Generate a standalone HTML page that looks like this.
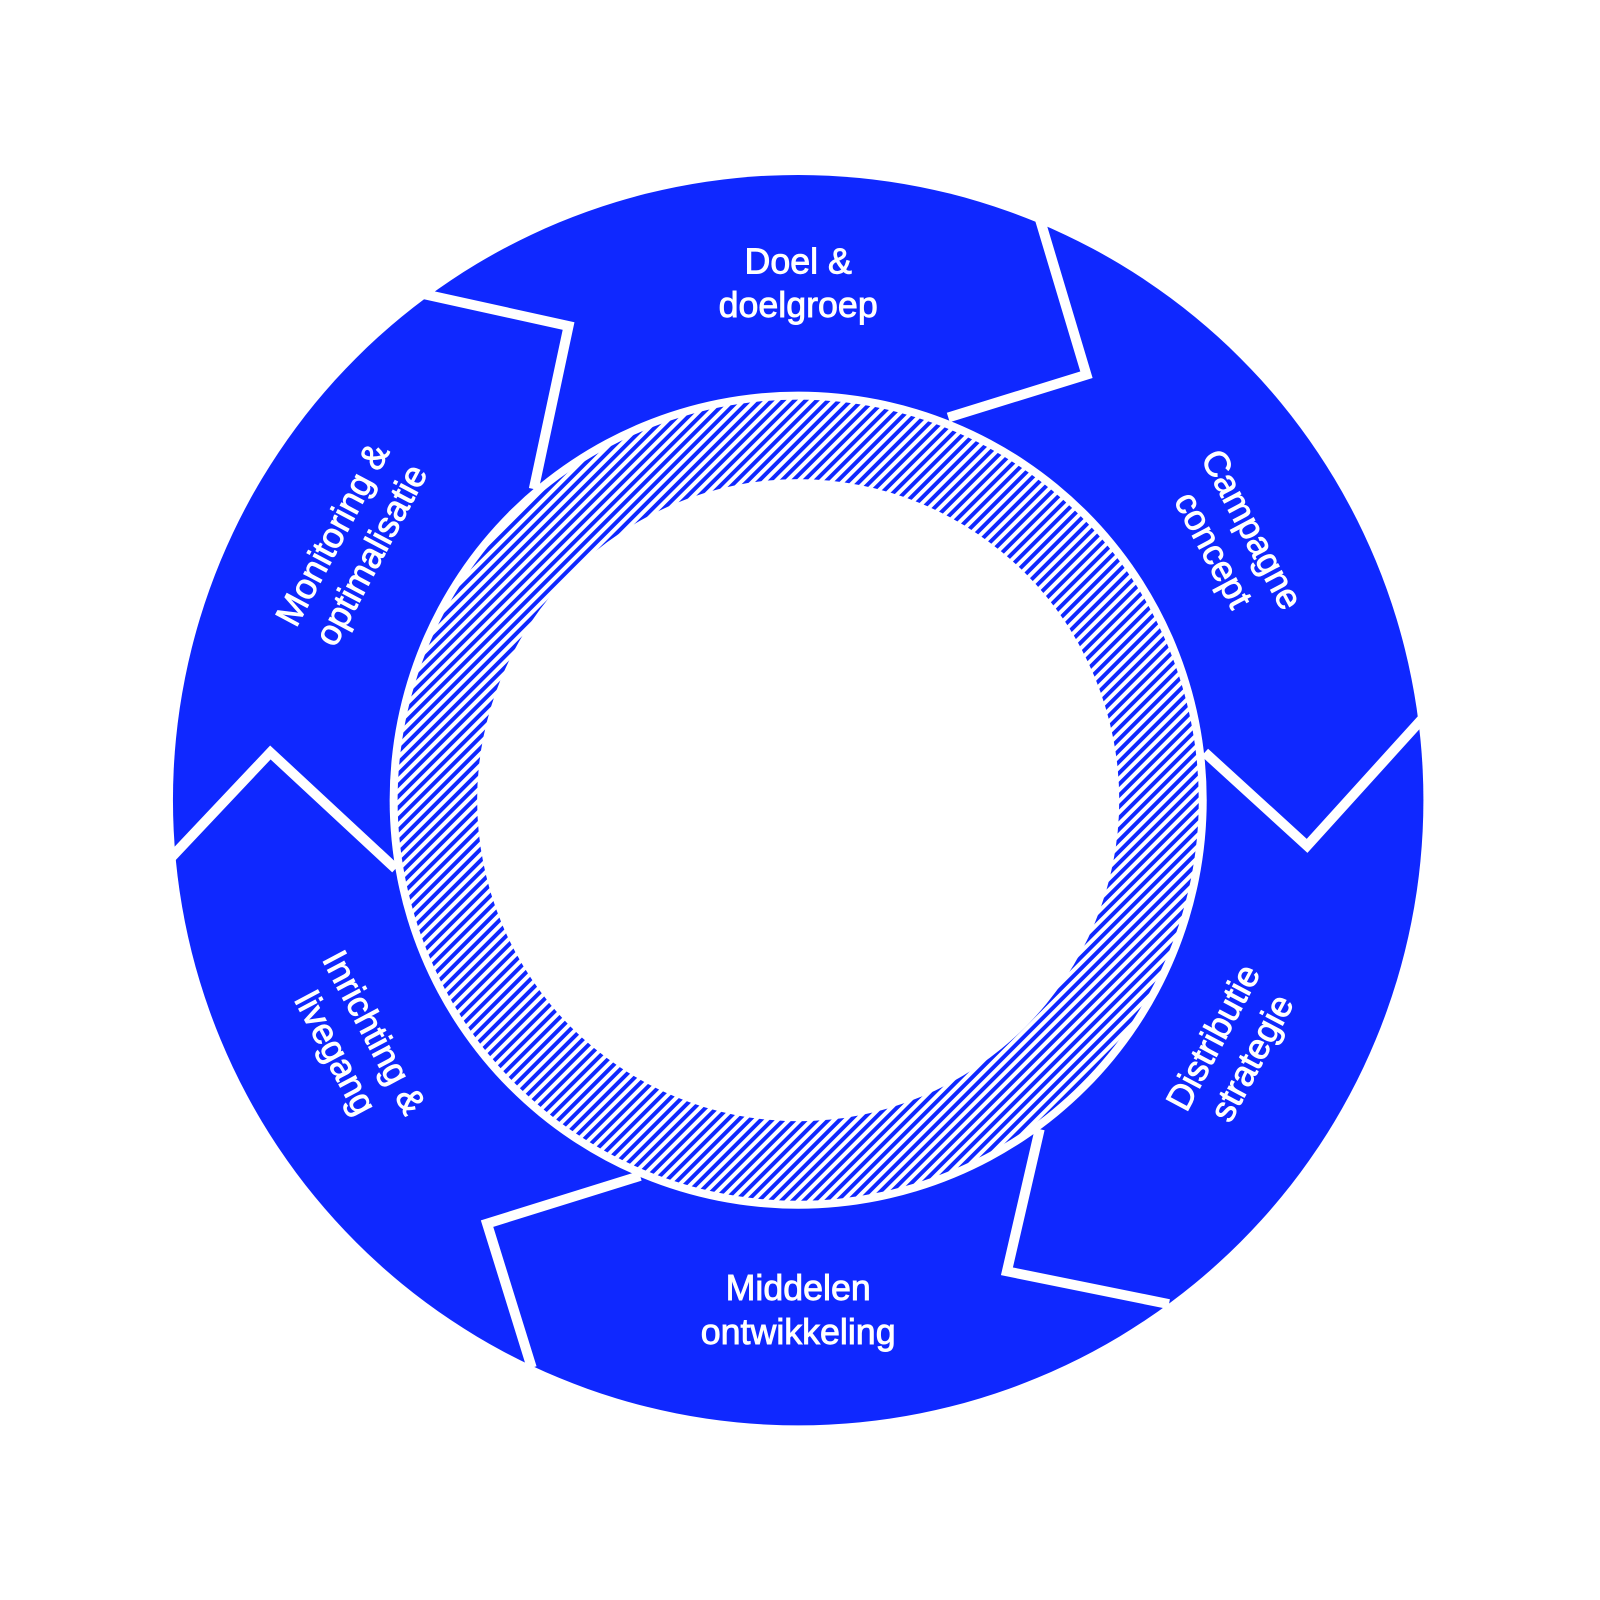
<!DOCTYPE html>
<html><head><meta charset="utf-8"><style>
html,body{margin:0;padding:0;background:#fff;}
svg{display:block;}
text{font-family:"Liberation Sans",sans-serif;font-size:36px;fill:#fff;stroke:#fff;stroke-width:0.9px;text-anchor:middle;}
</style></head><body>
<svg width="1600" height="1600" viewBox="0 0 1600 1600" xmlns="http://www.w3.org/2000/svg">
<defs>
<pattern id="h" width="8" height="8" patternUnits="userSpaceOnUse" patternTransform="rotate(45)">
<rect width="8" height="8" fill="#fff"/>
<rect x="0" y="0" width="4" height="8" fill="#0f28ff"/>
</pattern>
</defs>
<rect width="1600" height="1600" fill="#fff"/>
<g transform="scale(0.994)">
<circle cx="803" cy="805" r="629" fill="#0f28ff"/>
<g fill="none" stroke="#fff" stroke-width="10" stroke-linejoin="miter">
<polyline points="1046,220 1093,377 954,420"/>
<polyline points="1430,724 1315,851 1212,757"/>
<polyline points="1176,1312 1013,1279 1046,1136"/>
<polyline points="535,1376 490,1231 644,1183"/>
<polyline points="172,863 272,757 398,874"/>
<polyline points="427,296 572,328 537,492"/>
</g>
<circle cx="803" cy="805" r="411" fill="#fff"/>
<circle cx="803" cy="805" r="403" fill="url(#h)"/>
<circle cx="803" cy="805" r="323" fill="#fff"/>
<text x="803" y="275">Doel &amp;</text>
<text x="803" y="319">doelgroep</text>
<text x="803" y="1308">Middelen</text>
<text x="803" y="1352">ontwikkeling</text>
<g transform="translate(1240,543) rotate(62)"><text x="0" y="-10">Campagne</text><text x="0" y="34">concept</text></g>
<g transform="translate(1240,1054) rotate(-62)"><text x="0" y="-10">Distributie</text><text x="0" y="34">strategie</text></g>
<g transform="translate(357,1049) rotate(62)"><text x="0" y="-10">Inrichting &amp;</text><text x="0" y="34">livegang</text></g>
<g transform="translate(354,548) rotate(-62)"><text x="0" y="-10">Monitoring &amp;</text><text x="0" y="34">optimalisatie</text></g>
</g>
</svg>
</body></html>
